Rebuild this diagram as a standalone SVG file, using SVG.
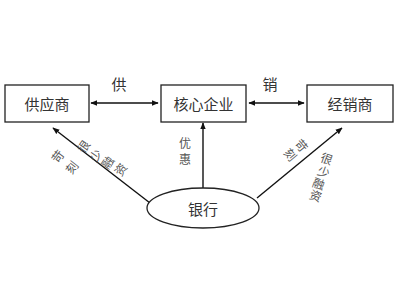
<svg xmlns="http://www.w3.org/2000/svg" width="400" height="300" viewBox="0 0 400 300">
<defs>
<marker id="ah" viewBox="0 0 10 10" refX="9" refY="5" markerWidth="7" markerHeight="7" orient="auto-start-reverse" markerUnits="userSpaceOnUse">
<path d="M0,1 L10,5 L0,9 z" fill="#111"/>
</marker>
<style>
.box{fill:#fff;stroke:#222;stroke-width:1.3}
.t{font-family:"Noto Sans CJK SC","Noto Sans CJK JP",sans-serif;fill:#333;text-anchor:middle;dominant-baseline:central}
.big{font-size:15px}
.sm{font-size:12px;fill:#555}
.ln{stroke:#111;stroke-width:1.4;fill:none}
</style>
</defs>
<rect width="400" height="300" fill="#fff"/>
<g id="connectors">
<line class="ln" x1="91" y1="103" x2="158" y2="103" marker-start="url(#ah)" marker-end="url(#ah)"/>
<line class="ln" x1="249" y1="103" x2="304" y2="103" marker-start="url(#ah)" marker-end="url(#ah)"/>
<line class="ln" x1="203" y1="188" x2="203" y2="123" marker-end="url(#ah)"/>
<line class="ln" x1="150" y1="203" x2="53" y2="128" marker-end="url(#ah)"/>
<line class="ln" x1="257" y1="198" x2="342" y2="128" marker-end="url(#ah)"/>
<text class="t big" x="119" y="83">供</text>
<text class="t big" x="270" y="83">销</text>
<text class="t sm" x="185" y="142">优</text>
<text class="t sm" x="185" y="158">惠</text>
<text class="t sm" transform="translate(57,156) rotate(-52)">苛</text>
<text class="t sm" transform="translate(71,167) rotate(-52)">刻</text>
<text class="t sm" transform="translate(83,146) rotate(-55)">很</text>
<text class="t sm" transform="translate(95,155) rotate(-55)">少</text>
<text class="t sm" transform="translate(107,162) rotate(-55)">融</text>
<text class="t sm" transform="translate(120,169) rotate(-55)">资</text>
<text class="t sm" transform="translate(302,145) rotate(50)">苛</text>
<text class="t sm" transform="translate(291,154) rotate(50)">刻</text>
<text class="t sm" transform="translate(327,158) rotate(20)">很</text>
<text class="t sm" transform="translate(324,171) rotate(20)">少</text>
<text class="t sm" transform="translate(319,183) rotate(20)">融</text>
<text class="t sm" transform="translate(316,195) rotate(20)">资</text>
</g>
<g id="supplier">
<rect class="box" x="5" y="85" width="84" height="37"/>
<text class="t big" x="47" y="103.5">供应商</text>
</g>
<g id="core">
<rect class="box" x="161" y="85" width="85" height="37"/>
<text class="t big" x="203.5" y="103.5">核心企业</text>
</g>
<g id="distributor">
<rect class="box" x="307" y="85" width="86" height="37"/>
<text class="t big" x="350" y="103.5">经销商</text>
</g>
<g id="bank">
<ellipse class="box" cx="203" cy="208" rx="56" ry="20"/>
<text class="t big" x="203" y="208.5">银行</text>
</g>
</svg>
